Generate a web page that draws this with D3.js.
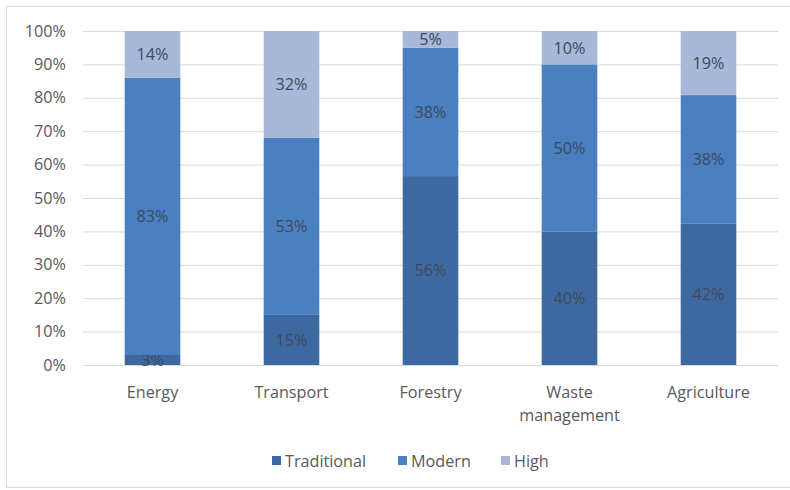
<!DOCTYPE html>
<html>
<head>
<meta charset="utf-8">
<script src="https://cdn.jsdelivr.net/npm/d3@7"></script>
<style>
  html, body { margin: 0; padding: 0; background: #fff; }
  svg { display: block; font-family: "Open Sans", Lato, sans-serif; }
</style>
</head>
<body>
<svg id="chart" width="790" height="490"></svg>
<script>
// Sectors and the share of each technology level (percent)
const categories = ["Energy", "Transport", "Forestry", "Waste management", "Agriculture"];
const seriesNames = ["Traditional", "Modern", "High"];
const traditional = [3, 15, 56, 40, 42];
const modern = [83, 53, 38, 50, 38];
const high = [14, 32, 5, 10, 19];
const yTicks = [0, 0.1, 0.2, 0.3, 0.4, 0.5, 0.6, 0.7, 0.8, 0.9, 1];
const colors = ["#3e69a0", "#4a7fc0", "#a7b8d9"];

const svg = d3.select("#chart");
const margin = { left: 83, right: 12, top: 31, bottom: 125 };
const W = 790, H = 490;
const FS = 16.2;

// Outer chart frame
svg.append("rect")
  .attr("x", 6.5).attr("y", 6.5)
  .attr("width", W).attr("height", 481)
  .attr("fill", "#fff").attr("stroke", "#d9d9d9").attr("stroke-width", 1);

const x = d3.scaleBand()
  .domain(categories)
  .range([margin.left, W - margin.right])
  .paddingInner(0.6).paddingOuter(0.3);

// 100% stacked: each bar is scaled to its own total
const y = d3.scaleLinear()
  .domain([0, 1])
  .range([H - margin.bottom, margin.top]);

// Gridlines and percentage axis
const yAxis = d3.axisLeft(y)
  .tickValues(yTicks)
  .tickSize(-(W - margin.right - margin.left))
  .tickFormat(d3.format(".0%"))
  .tickPadding(17);

const gy = svg.append("g")
  .attr("transform", `translate(${margin.left},0)`)
  .call(yAxis);
gy.select(".domain").remove();
gy.selectAll(".tick line").attr("stroke", "#d9d9d9").attr("stroke-width", 1);
gy.selectAll(".tick text")
  .attr("fill", "#595959")
  .attr("font-family", "'Open Sans', sans-serif")
  .attr("font-size", FS);

// Stack the three series
const rows = categories.map((c, i) => ({
  category: c,
  Traditional: traditional[i],
  Modern: modern[i],
  High: high[i]
}));
const stacked = d3.stack()
  .keys(seriesNames)
  .offset(d3.stackOffsetExpand)(rows);

const layers = svg.append("g").selectAll("g")
  .data(stacked)
  .join("g")
  .attr("fill", (d, i) => colors[i]);

layers.selectAll("rect")
  .data(d => d)
  .join("rect")
  .attr("x", d => x(d.data.category))
  .attr("width", x.bandwidth())
  .attr("y", d => y(d[1]))
  .attr("height", d => y(d[0]) - y(d[1]));

// Value labels centred on each segment
layers.selectAll("text")
  .data(d => d.map(v => ({ v, key: d.key })))
  .join("text")
  .attr("x", d => x(d.v.data.category) + x.bandwidth() / 2)
  .attr("y", d => (y(d.v[0]) + y(d.v[1])) / 2)
  .attr("dy", "0.36em")
  .attr("text-anchor", "middle")
  .attr("fill", "#3e4a5c")
  .attr("font-size", FS)
  .text(d => d.v.data[d.key] + "%");

// Category axis labels (wrapping the two-word sector)
const labelLines = {
  "Energy": ["Energy"],
  "Transport": ["Transport"],
  "Forestry": ["Forestry"],
  "Waste management": ["Waste", "management"],
  "Agriculture": ["Agriculture"]
};
const xl = svg.append("g").selectAll("text")
  .data(categories)
  .join("text")
  .attr("x", d => x(d) + x.bandwidth() / 2)
  .attr("y", H - margin.bottom + 33)
  .attr("text-anchor", "middle")
  .attr("fill", "#595959")
  .attr("font-size", FS);
xl.selectAll("tspan")
  .data(d => labelLines[d])
  .join("tspan")
  .attr("x", function () { return d3.select(this.parentNode).attr("x"); })
  .attr("dy", (d, i) => i === 0 ? 0 : 23)
  .text(d => d);

// Legend
const legendX = [272, 398, 501];
const legend = svg.append("g").selectAll("g")
  .data(seriesNames)
  .join("g")
  .attr("transform", (d, i) => `translate(${legendX[i]},461)`);
legend.append("rect")
  .attr("x", 0).attr("y", -5)
  .attr("width", 9).attr("height", 9)
  .attr("fill", (d, i) => colors[i]);
legend.append("text")
  .attr("x", 13).attr("y", 0)
  .attr("dy", "0.35em")
  .attr("fill", "#595959")
  .attr("font-size", FS)
  .text(d => d);
</script>
</body>
</html>
